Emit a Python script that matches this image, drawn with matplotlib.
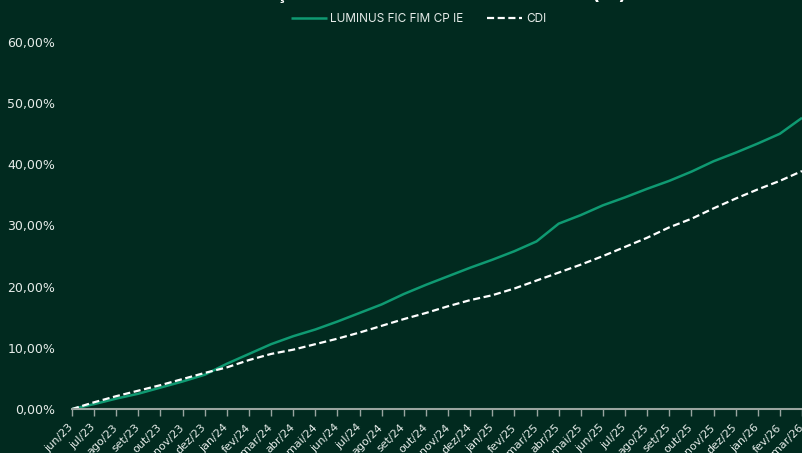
import matplotlib
matplotlib.use("Agg")
import matplotlib.pyplot as plt
import numpy as np

months = ["jun/23", "jul/23", "ago/23", "set/23", "out/23", "nov/23", "dez/23",
          "jan/24", "fev/24", "mar/24", "abr/24", "mai/24", "jun/24", "jul/24",
          "ago/24", "set/24", "out/24", "nov/24", "dez/24", "jan/25", "fev/25",
          "mar/25", "abr/25", "mai/25", "jun/25", "jul/25", "ago/25", "set/25",
          "out/25", "nov/25", "dez/25", "jan/26", "fev/26", "mar/26"]

luminus = [0.0, 0.8, 1.7, 2.5, 3.5, 4.5, 5.6, 7.4, 9.0, 10.6, 11.9, 13.0,
           14.3, 15.7, 17.1, 18.8, 20.3, 21.7, 23.1, 24.4, 25.8, 27.4, 30.3,
           31.7, 33.3, 34.6, 36.0, 37.3, 38.8, 40.5, 41.9, 43.4, 45.0, 47.6]

cdi = [0.0, 1.1, 2.1, 3.0, 3.9, 4.9, 5.9, 6.8, 8.0, 9.0, 9.7, 10.6,
       11.5, 12.5, 13.6, 14.7, 15.7, 16.8, 17.8, 18.6, 19.7, 21.0, 22.3,
       23.6, 25.0, 26.5, 28.0, 29.7, 31.1, 32.8, 34.4, 35.9, 37.3, 38.9]

yticks = [0, 10, 20, 30, 40, 50, 60]
ytick_labels = ["0,00%", "10,00%", "20,00%", "30,00%", "40,00%", "50,00%", "60,00%"]

title = "Evolução da Rentabilidade Acumulada (%)"
series_names = ["LUMINUS FIC FIM CP IE", "CDI"]

BG = "#012a1f"
GREEN = "#0f9a72"
TXT = "#e6ece9"
FONT = ["Inter", "DejaVu Sans"]
plt.rcParams["font.family"] = FONT

fig = plt.figure(figsize=(8.02, 4.53), dpi=100, facecolor=BG)
ax = fig.add_axes([72/802, 1 - 409/453, 1 - 72/802, (409 - 42)/453])
ax.set_facecolor(BG)

x = np.arange(len(months))
ax.plot(x, luminus, color=GREEN, lw=1.8, label=series_names[0], solid_capstyle="butt")
ax.plot(x, cdi, color="white", lw=1.6, ls=(0, (3.2, 1.6)), label=series_names[1])

ax.set_xlim(0, len(months) - 1)
ax.set_ylim(0, 60)
ax.set_yticks(yticks)
ax.set_yticklabels(ytick_labels, color=TXT, fontsize=9, family="DejaVu Sans")
ax.set_xticks(x)
ax.set_xticklabels(months, rotation=45, ha="right", va="center",
                   rotation_mode="anchor", color=TXT, fontsize=8,
                   family="DejaVu Sans")
ax.tick_params(axis="y", length=0, pad=12)
ax.tick_params(axis="x", length=5, width=1, color="#9aa5a0", pad=7)
for s in ["top", "right", "left"]:
    ax.spines[s].set_visible(False)
ax.spines["bottom"].set_color("#9aa5a0")
ax.spines["bottom"].set_linewidth(1.5)

leg = fig.legend(loc="center", bbox_to_anchor=(0.522, 1 - 19/453), ncol=2,
                 frameon=False, fontsize=8.5, handlelength=3.0, handletextpad=0.3,
                 columnspacing=2.0, labelcolor=TXT)

fig.text(0.53, 1 + 1.5/453, title, ha="center", va="baseline", color="white",
         fontsize=14, fontweight="bold")

fig.savefig("out.png", dpi=100, facecolor=BG)
